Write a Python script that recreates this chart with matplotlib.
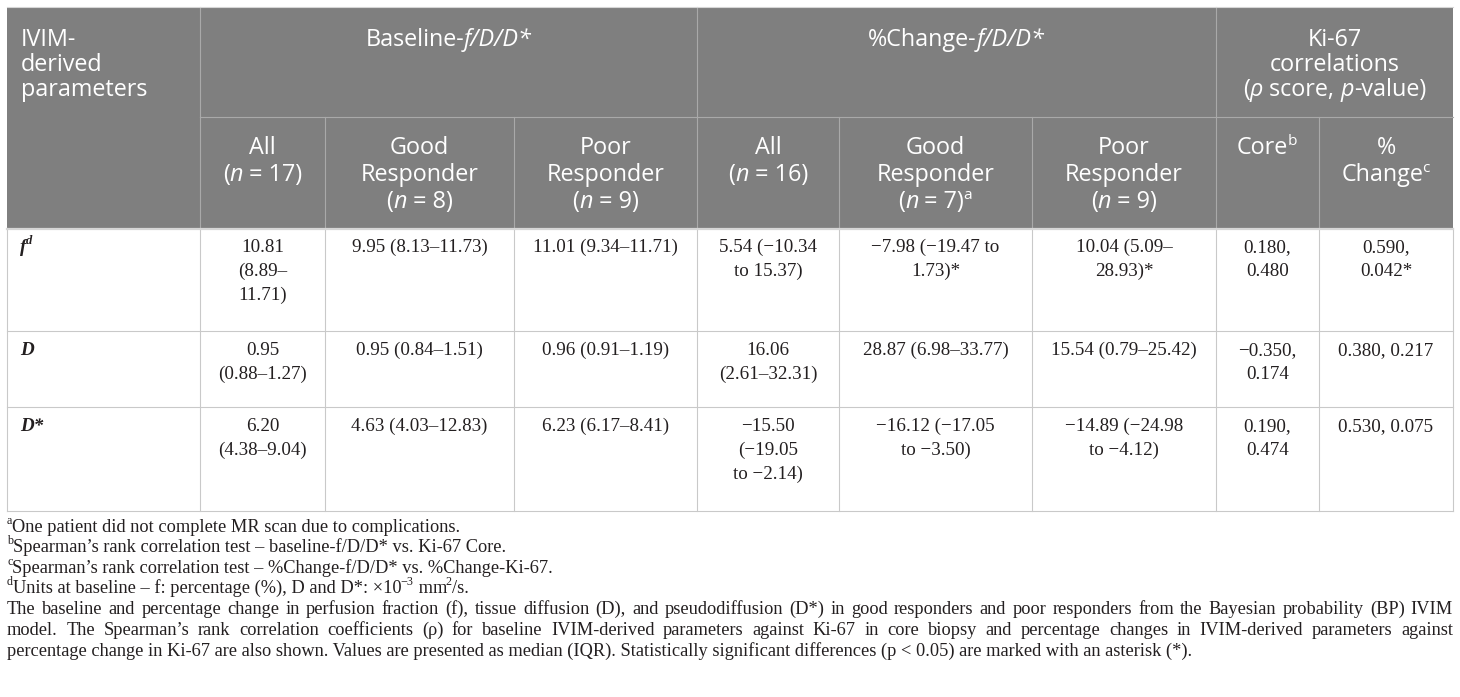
import matplotlib
matplotlib.use("Agg")
import matplotlib.pyplot as plt

# ---------------- table content ----------------
param_labels = ["f", "D", "D*"]
param_marks = ["d", "", ""]

baseline_all = ["10.81\n(8.89–\n11.71)", "0.95\n(0.88–1.27)", "6.20\n(4.38–9.04)"]
baseline_good = ["9.95 (8.13–11.73)", "0.95 (0.84–1.51)", "4.63 (4.03–12.83)"]
baseline_poor = ["11.01 (9.34–11.71)", "0.96 (0.91–1.19)", "6.23 (6.17–8.41)"]
change_all = ["5.54 (−10.34\nto 15.37)", "16.06\n(2.61–32.31)", "−15.50\n(−19.05\nto −2.14)"]
change_good = ["−7.98 (−19.47 to\n1.73)*", "28.87 (6.98–33.77)", "−16.12 (−17.05\nto −3.50)"]
change_poor = ["10.04 (5.09–\n28.93)*", "15.54 (0.79–25.42)", "−14.89 (−24.98\nto −4.12)"]
ki67_core = ["0.180,\n0.480", "−0.350,\n0.174", "0.190,\n0.474"]
ki67_change = ["0.590,\n0.042*", "0.380, 0.217", "0.530, 0.075"]

columns = [baseline_all, baseline_good, baseline_poor,
           change_all, change_good, change_poor, ki67_core, ki67_change]

first_header = [[("IVIM-", "")], [("derived", "")], [("parameters", "")]]
group_headers = [
    [[("Baseline-", ""), ("f/D/D*", "i")]],
    [[("%Change-", ""), ("f/D/D*", "i")]],
    [[("Ki-67", "")], [("correlations", "")],
     [("(", ""), ("ρ", "i"), (" score, ", ""), ("p", "i"), ("-value)", "")]],
]
sub_headers = [
    [[("All", "")], [("(", ""), ("n", "i"), (" = 17)", "")]],
    [[("Good", "")], [("Responder", "")], [("(", ""), ("n", "i"), (" = 8)", "")]],
    [[("Poor", "")], [("Responder", "")], [("(", ""), ("n", "i"), (" = 9)", "")]],
    [[("All", "")], [("(", ""), ("n", "i"), (" = 16)", "")]],
    [[("Good", "")], [("Responder", "")], [("(", ""), ("n", "i"), (" = 7)", ""), ("a", "s")]],
    [[("Poor", "")], [("Responder", "")], [("(", ""), ("n", "i"), (" = 9)", "")]],
    [[("Core", ""), ("b", "s")]],
    [[("%", "")], [("Change", ""), ("c", "s")]],
]

footnotes = [
    [("a", "s"), ("One patient did not complete MR scan due to complications.", "")],
    [("b", "s"), ("Spearman’s rank correlation test – baseline-f/D/D* vs. Ki-67 Core.", "")],
    [("c", "s"), ("Spearman’s rank correlation test – %Change-f/D/D* vs. %Change-Ki-67.", "")],
    [("d", "s"), ("Units at baseline – f: percentage (%), D and D*: ×10", ""), ("−3", "s"),
     (" mm", ""), ("2", "s"), ("/s.", "")],
]
caption_lines = [
    "The baseline and percentage change in perfusion fraction (f), tissue diffusion (D), and "
    "pseudodiffusion (D*) in good responders and poor responders from the Bayesian probability (BP) IVIM",
    "model. The Spearman’s rank correlation coefficients (ρ) for baseline IVIM-derived parameters against "
    "Ki-67 in core biopsy and percentage changes in IVIM-derived parameters against",
    "percentage change in Ki-67 are also shown. Values are presented as median (IQR). Statistically "
    "significant differences (p < 0.05) are marked with an asterisk (*).",
]

# ---------------- layout (pixels) ----------------
col_x = [7, 200, 325, 514, 697, 839, 1032, 1216, 1319, 1453]
group_x = [200, 697, 1216, 1453]
row_y = [228, 331, 407, 511]
top_y, mid_y = 7, 117

HEAD_FONT = "Open Sans"
BODY_FONT = "Liberation Serif"
HEAD_SIZE = 16.8
BODY_SIZE = 13.7
NOTE_SIZE = 13.2
HEAD_GREY = "#7f7f7f"
TXT = "#231f20"

fig = plt.figure(figsize=(14.6, 6.97), dpi=100)
ax = fig.add_axes([0, 0, 1, 1])
ax.set_xlim(0, 1460)
ax.set_ylim(697, 0)
ax.axis("off")
rend = fig.canvas.get_renderer()


def font_kw(style, size, family, color):
    kw = dict(family=family, color=color, fontsize=size)
    if "i" in style:
        kw["style"] = "italic"
    if "b" in style:
        kw["weight"] = "bold"
    if "s" in style:
        kw["fontsize"] = size * 0.66
    return kw


def seg_width(s, kw):
    t = ax.text(0, 0, "|" + s + "|", **kw)
    w = t.get_window_extent(rend).width
    t.set_text("||")
    w -= t.get_window_extent(rend).width
    t.remove()
    return w


def rich_line(x, y, segs, size, family, color=TXT, ha="left"):
    # y = visual middle of the line, pixels from top
    px = size * 100 / 72
    parts = [(s, font_kw(st, size, family, color), "s" in st) for s, st in segs]
    widths = [seg_width(s, kw) for s, kw, _ in parts]
    x0 = x - sum(widths) / 2 if ha == "center" else x
    base = y + 0.36 * px
    for k, ((s, kw, sup), w) in enumerate(zip(parts, widths)):
        if sup and k > 0:
            x0 -= 1.0
        ax.text(x0, base - (0.42 * px if sup else 0), s, ha="left", va="baseline", **kw)
        x0 += w


def rich_block(x, y, lines, step, size, family, color=TXT, ha="left"):
    for i, segs in enumerate(lines):
        rich_line(x, y + i * step, segs, size, family, color, ha)


# header background
ax.add_patch(plt.Rectangle((col_x[0], top_y), col_x[-1] - col_x[0], row_y[0] - top_y,
                           facecolor=HEAD_GREY, edgecolor="none", zorder=0))

# header grid lines
hl = dict(color="#a9a9a9", lw=0.8, zorder=1)
for x in group_x[:-1]:
    ax.plot([x, x], [top_y, mid_y], **hl)
for x in col_x[1:-1]:
    ax.plot([x, x], [mid_y, row_y[0]], **hl)
ax.plot([col_x[1], col_x[-1]], [mid_y, mid_y], **hl)

# body grid lines
bl = dict(color="#c9c9c9", lw=0.8, zorder=1)
for x in col_x:
    ax.plot([x, x], [row_y[0], row_y[-1]], **bl)
for y in row_y[1:]:
    ax.plot([col_x[0], col_x[-1]], [y, y], **bl)
ax.plot([col_x[0], col_x[-1]], [row_y[0] + 0.5, row_y[0] + 0.5], color="#d6d6d6", lw=1.6, zorder=1)
ax.plot([col_x[0], col_x[-1]], [top_y, top_y], color="#d6d6d6", lw=0.8, zorder=1)

# header text
rich_block(21, 38, first_header, 25, HEAD_SIZE, HEAD_FONT, "white")
for g, lines in enumerate(group_headers):
    cx = (group_x[g] + group_x[g + 1]) / 2
    rich_block(cx, 38, lines, 25, HEAD_SIZE, HEAD_FONT, "white", ha="center")
for c, lines in enumerate(sub_headers):
    cx = (col_x[c + 1] + col_x[c + 2]) / 2
    rich_block(cx, 146, lines, 27, HEAD_SIZE, HEAD_FONT, "white", ha="center")

# body text
for r in range(len(param_labels)):
    ytop = row_y[r] + 17
    segs = [(param_labels[r], "bi")]
    if param_marks[r]:
        segs.append((param_marks[r], "bis"))
    rich_line(20, ytop, segs, BODY_SIZE, BODY_FONT)
    for c, col in enumerate(columns):
        cx = (col_x[c + 1] + col_x[c + 2]) / 2
        for i, line in enumerate(col[r].split("\n")):
            rich_line(cx, ytop + i * 24, [(line, "")], BODY_SIZE, BODY_FONT, ha="center")

# footnotes
for i, segs in enumerate(footnotes):
    rich_line(7, 525 + i * 20.5, segs, NOTE_SIZE, BODY_FONT)

# justified caption
full_w = col_x[-1] - col_x[0]
for i, line in enumerate(caption_lines):
    y = 607 + i * 21
    if i == len(caption_lines) - 1:
        rich_line(7, y, [(line, "")], NOTE_SIZE, BODY_FONT)
        continue
    words = line.split(" ")
    kw = font_kw("", NOTE_SIZE, BODY_FONT, TXT)
    ws = [seg_width(w, kw) for w in words]
    gap = (full_w - sum(ws)) / (len(words) - 1)
    x = col_x[0]
    base = y + 0.36 * NOTE_SIZE * 100 / 72
    for w, wd in zip(words, ws):
        ax.text(x, base, w, ha="left", va="baseline", **kw)
        x += wd + gap

fig.savefig("out.png", dpi=100)
